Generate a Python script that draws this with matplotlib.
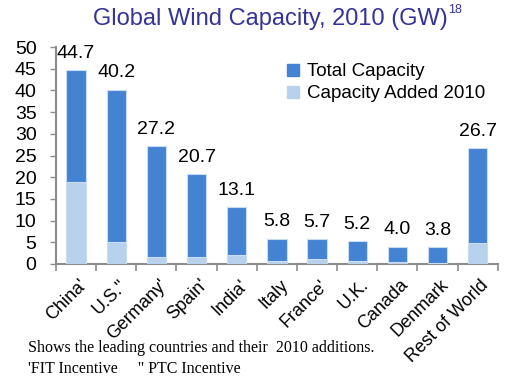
import matplotlib
matplotlib.use("Agg")
import matplotlib.pyplot as plt
from matplotlib.lines import Line2D
from matplotlib.transforms import ScaledTranslation
import numpy as np

countries = ["China'", 'U.S."', "Germany'", "Spain'", "India'", "Italy",
             "France'", "U.K.", "Canada", "Denmark", "Rest of World"]
total_capacity = [44.7, 40.2, 27.2, 20.7, 13.1, 5.8, 5.7, 5.2, 4.0, 3.8, 26.7]
added_2010 = [18.9, 5.0, 1.5, 1.5, 2.1, 0.7, 1.1, 0.75, 0.45, 0.1, 4.8]
value_labels = ["44.7", "40.2", "27.2", "20.7", "13.1", "5.8", "5.7", "5.2", "4.0", "3.8", "26.7"]
yticks = [0, 5, 10, 15, 20, 25, 30, 35, 40, 45, 50]

DARK = "#4383D1"
LIGHT = "#B8D2EE"
EDGE = "#C9DCF2"
AXC = "#8C8C8C"
FONT = "Liberation Sans"

plt.rcParams['font.family'] = [FONT, 'DejaVu Sans']

fig = plt.figure(figsize=(5.09, 3.77), dpi=100)
ax = fig.add_axes([0.110, 0.300, 0.868, 0.575])

x = np.arange(len(countries))
w = 0.48
ax.bar(x, total_capacity, width=w, color=DARK, edgecolor=EDGE, linewidth=0.8, zorder=2)
ax.bar(x, added_2010, width=w, color=LIGHT, edgecolor=EDGE, linewidth=0.8, zorder=3)

for xi, t, lab in zip(x, total_capacity, value_labels):
    ax.annotate(lab, (xi, t), xytext=(0, 6), textcoords="offset points",
                ha="center", va="bottom", fontsize=14, color="black")

ax.set_xlim(-0.5, len(countries) - 0.5)
ax.set_ylim(0, 50)
ax.set_yticks(yticks)
ax.set_yticklabels([str(v) for v in yticks], fontsize=14)
ax.tick_params(axis="y", direction="out", length=4, width=1, color=AXC, pad=10)

ax.set_xticks(x)
ax.set_xticklabels(countries, rotation=45, ha="right", va="top",
                   rotation_mode="anchor", fontsize=13)
ax.tick_params(axis="x", which="major", length=0, pad=9)
shift = ScaledTranslation(2.5 / 100, 0, fig.dpi_scale_trans)
for lab in ax.get_xticklabels():
    lab.set_transform(lab.get_transform() + shift)
ax.set_xticks(np.arange(-0.5, len(countries)), minor=True)
ax.tick_params(axis="x", which="minor", direction="out", length=5, width=1.2, color=AXC)

for s in ["top", "right"]:
    ax.spines[s].set_visible(False)
for s in ["left", "bottom"]:
    ax.spines[s].set_color(AXC)
    ax.spines[s].set_linewidth(1.5)

handles = [Line2D([], [], marker="s", linestyle="none", markersize=8, color=DARK),
           Line2D([], [], marker="s", linestyle="none", markersize=8, color=LIGHT)]
fig.legend(handles, ["Total Capacity", "Capacity Added 2010"], loc="upper left",
           bbox_to_anchor=(0.546, 0.852), frameon=False, fontsize=13.5,
           handlelength=0.8, handletextpad=0.35, labelspacing=0.25, borderaxespad=0)

fig.text(0.880, 0.950, "Global Wind Capacity, 2010 (GW)", ha="right", va="center",
         fontsize=17, color="#33339A")
fig.text(0.881, 0.973, "18", ha="left", va="center", fontsize=9, color="#33339A")

fig.text(0.055, 0.077, "Shows the leading countries and their  2010 additions.",
         ha="left", va="center", fontsize=11.5, family="Liberation Serif")
fig.text(0.055, 0.022, "'FIT Incentive     \" PTC Incentive",
         ha="left", va="center", fontsize=11.5, family="Liberation Serif")

fig.savefig("out.png", dpi=100)
